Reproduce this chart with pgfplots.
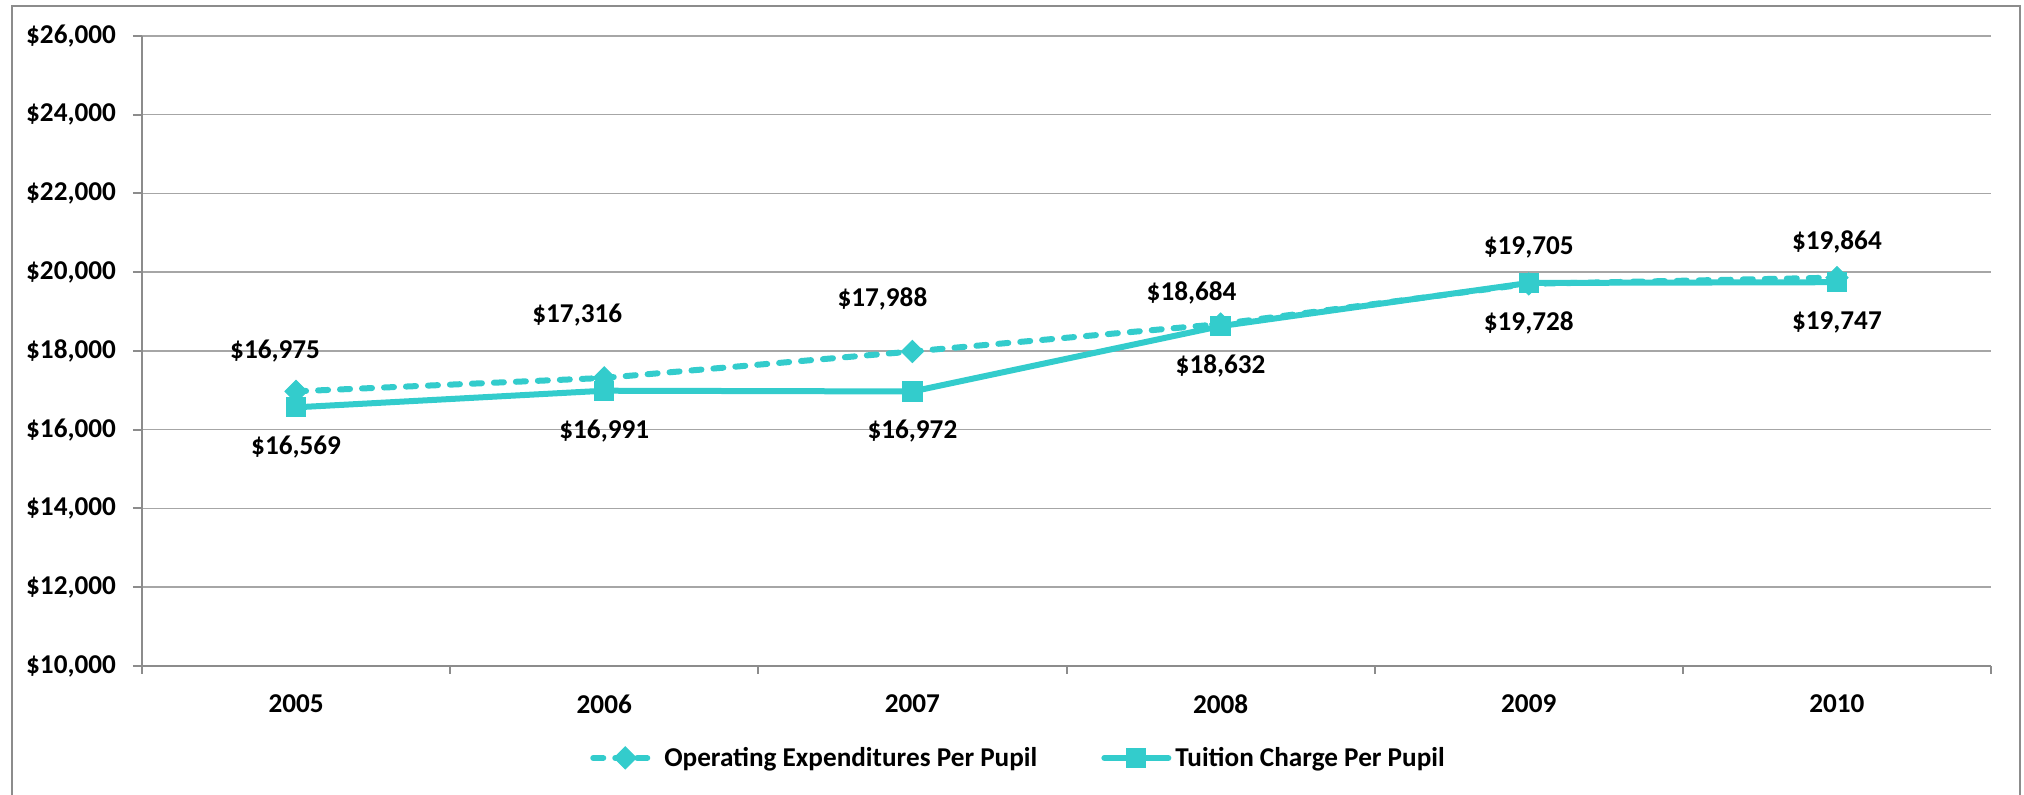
\documentclass[border=0pt]{standalone}
\usepackage{fontspec}
\setmainfont{Carlito}
\usepackage{pgfplots}
\pgfplotsset{compat=1.18}
\usepackage{pgfplotstable}
\definecolor{teal1}{HTML}{33CCCC}
\definecolor{gridgray}{HTML}{A6A6A6}
\definecolor{axgray}{HTML}{8C8C8C}
\newcommand\lbl{\fontsize{13.6}{16}\selectfont\bfseries}

\pgfplotstableread{
x y dx dy
0 16975 -10.5 20
1 17316 -13.5 31.5
2 17988 -15 26.5
3 18684 -14.5 15.5
4 19705 0 18
5 19864 0 18
}\opex
\pgfplotstableread{
x y
0 16569
1 16991
2 16972
3 18632
4 19728
5 19747
}\tuition

\begin{document}
\begin{tikzpicture}
\useasboundingbox (-71pt,-64.5pt) rectangle (941pt,333pt);
\draw[axgray, line width=1pt] (-65pt,-70pt) rectangle (939pt,330pt);
\begin{axis}[
  at={(0pt,0pt)}, anchor=south west,
  scale only axis, width=924.5pt, height=315pt,
  xmin=-0.5, xmax=5.5, ymin=10000, ymax=26000,
  xtick={0,1,2,3,4,5}, xticklabels={2005,2006,2007,2008,2009,2010},
  minor xtick={-0.5,0.5,1.5,2.5,3.5,4.5,5.5},
  ytick={10000,12000,...,26000},
  scaled y ticks=false,
  axis x line*=bottom, axis y line*=left,
  axis line style={-, axgray, line width=1pt},
  tick align=outside,
  major tick length=4.5pt, minor tick length=4pt,
  major x tick style={draw=none},
  minor x tick style={axgray, line width=1pt},
  major y tick style={axgray, line width=1pt},
  ymajorgrids, major grid style={gridgray, line width=0.75pt},
  /pgf/number format/fixed, /pgf/number format/precision=0,
  /pgf/number format/1000 sep={,},
  /pgf/number format/assume math mode=true,
  yticklabel={\$\pgfmathprintnumber{\tick}},
  ticklabel style={font=\lbl, text=black},
  xticklabel style={yshift=-6.5pt},
  yticklabel style={xshift=-5pt},
  clip=false,
  legend style={at={(0.4746,-0.146)}, anchor=center, draw=none, fill=none,
    legend columns=2, font=\lbl, cells={anchor=west},
    /tikz/every even column/.append style={column sep=30pt}},
  legend image code/.code={\draw[mark repeat=2,mark phase=2,#1] plot coordinates {(0pt,0pt) (16pt,0pt) (32pt,0pt)};},
]
\addplot[teal1, line width=3pt, dash pattern=on 5pt off 6pt, line cap=round,
  mark=square*, mark size=3.9pt, mark options={solid, rotate=45, line width=0.5pt, fill=teal1},
  point meta=y,
  nodes near coords={\$\pgfmathprintnumber{\pgfplotspointmeta}},
  visualization depends on={\thisrow{dx}\as\dx},
  visualization depends on={\thisrow{dy}\as\dy},
  nodes near coords style={text=black, anchor=center, inner sep=0pt, xshift=\dx pt, yshift=\dy pt, font=\lbl},
] table[x=x,y=y] {\opex};
\addlegendentry{Operating Expenditures Per Pupil}
\addplot[teal1, line width=3pt, line cap=round,
  mark=square*, mark size=4.8pt, mark options={solid, line width=0.5pt, fill=teal1},
  point meta=y,
  nodes near coords={\$\pgfmathprintnumber{\pgfplotspointmeta}},
  nodes near coords style={text=black, anchor=center, inner sep=0pt, yshift=-20pt, font=\lbl},
] table[x=x,y=y] {\tuition};
\addlegendentry{Tuition Charge Per Pupil}
\end{axis}
\end{tikzpicture}
\end{document}
